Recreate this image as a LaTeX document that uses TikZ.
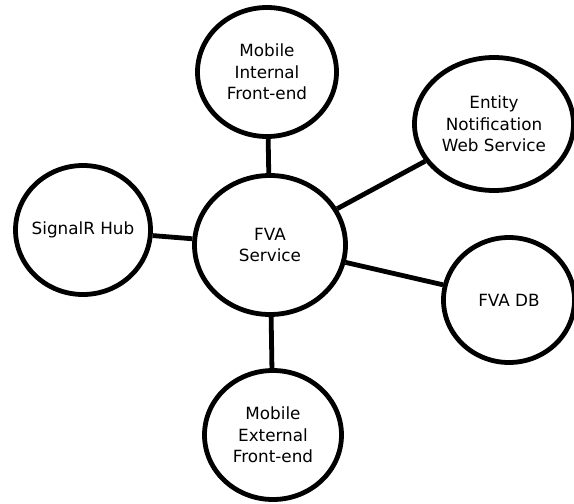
\documentclass[tikz,border=0pt]{standalone}
\usepackage{fontspec}
\setmainfont{DejaVu Sans}
\usetikzlibrary{shapes.geometric}

\begin{document}
\begin{tikzpicture}[
  x=1pt,y=-1pt,
  bubble/.style={draw=black,fill=white,ellipse,line width=4.8pt,
    inner xsep=-40pt,inner ysep=0pt,
    align=center,font=\fontsize{16.8}{21.5}\selectfont},
  link/.style={draw=black,line width=4.8pt}
]
  \useasboundingbox (0,0) rectangle (574,504);
  \clip (0,0) rectangle (574,504);
  \node[bubble,minimum width=151pt,minimum height=139pt] (svc) at (270,245) {FVA\\Service};
  \node[bubble,minimum width=139pt,minimum height=129pt] (mint) at (267,72) {Mobile\\Internal\\Front-end};
  \node[bubble,minimum width=159pt,minimum height=133pt] (ens) at (494,124) {Entity\\Notification\\Web Service};
  \node[bubble,minimum width=135pt,minimum height=129pt] (hub) at (83,230) {SignalR Hub};
  \node[bubble,minimum width=131pt,minimum height=125pt] (db) at (509,300) {FVA DB};
  \node[bubble,minimum width=137pt,minimum height=129pt] (mext) at (273,435) {Mobile\\External\\Front-end};
  \draw[link] (svc) -- (mint);
  \draw[link] (svc) -- (ens);
  \draw[link] (svc) -- (hub);
  \draw[link] (svc) -- (db);
  \draw[link] (svc) -- (mext);
\end{tikzpicture}
\end{document}
